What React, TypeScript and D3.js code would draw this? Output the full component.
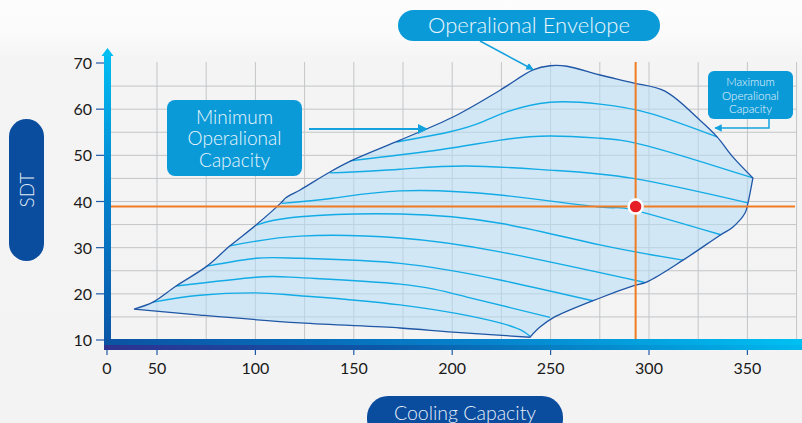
import { useEffect, useRef } from 'react'
import * as d3 from 'd3'

// axis ticks and grid values
const xTicks = [0, 50, 100, 150, 200, 250, 300, 350]
const yTicks = [10, 20, 30, 40, 50, 60, 70]
const xGrid = [50, 75, 100, 125, 150, 175, 200, 225, 250, 275, 300, 325, 350, 375]
const yGrid = [15, 20, 25, 30, 35, 40, 45, 50, 55, 60, 65]

// envelope outline [cooling capacity, SDT]
const envelopeTop = [
  [27, 16.7], [46, 18.2], [59.7, 21.7], [75.4, 26.0], [87.1, 30.4], [100.3, 34.9],
  [113.0, 39.7], [115.5, 40.8], [122.7, 42.5], [137.9, 46.4], [149.6, 49.0],
  [173.5, 53.3], [200.4, 58.3], [224.3, 64.1], [241.1, 68.5], [249.7, 69.4],
  [258.3, 69.3], [275.1, 67.4], [291.9, 65.7], [308.1, 63.9], [325.9, 57.6],
  [334.6, 54.0], [342.7, 49.6], [352.8, 45.1],
]
const envelopeRight = [
  [352.8, 45.1], [350.3, 39.7], [348.8, 37.5], [342.7, 34.5], [336.1, 32.7],
  [317.3, 27.3], [299.0, 22.6], [291.9, 21.7], [275.1, 19.1], [251.2, 14.8],
  [244.6, 12.8], [239.5, 10.6],
]
const envelopeBottom = [
  [239.5, 10.6], [200.4, 11.7], [173.5, 12.6], [122.7, 13.7], [71.8, 15.4], [27, 16.7],
]

// capacity curves inside the envelope
const curveA = [[46, 18.2], [71.8, 19.7], [100.3, 20.2], [122.7, 19.6], [173.5, 17.6], [224.3, 13.7], [239.5, 10.8]]
const curveB = [[59.7, 21.7], [100.3, 23.6], [122.7, 23.5], [173.5, 22.1], [207.5, 19.3], [249.7, 14.9]]
const curveC = [[75.4, 26.0], [100.3, 27.7], [122.7, 27.7], [173.5, 26.6], [224.3, 23.0], [271.5, 18.5]]
const curveD = [[87.1, 30.4], [122.7, 32.5], [173.5, 32.1], [224.3, 29.1], [297.5, 22.5]]
const curveE = [[100.6, 34.9], [122.7, 36.7], [173.5, 37.3], [224.3, 35.3], [275.1, 30.6], [317.3, 27.3]]
const curveF = [[113.4, 39.6], [139.4, 40.7], [173.5, 42.3], [224.3, 41.4], [275.1, 38.8], [291.9, 38.2], [336.5, 32.8]]
const curveG = [[137.9, 46.2], [173.5, 47.0], [207.5, 47.7], [249.7, 46.8], [291.9, 45.0], [350.3, 39.7]]
const curveH = [[148.1, 48.8], [193.8, 51.2], [224.3, 53.3], [249.7, 54.2], [275.1, 53.7], [300.5, 51.9], [352.8, 45.1]]
const curveI = [[171.8, 52.9], [198.9, 55.1], [215.7, 57.3], [227.7, 59.4], [249.7, 61.5], [275.1, 61.1], [300.5, 59.1], [334.6, 54.0]]
const curves = [curveA, curveB, curveC, curveD, curveE, curveF, curveG, curveH, curveI]

const operatingPoint = { cap: 293.2, sdt: 38.9 }

const minLabel = ['Minimum', 'Operalional', 'Capacity']
const maxLabel = ['Maximum', 'Operalional', 'Capacity']

const FONT = 'Lato, "Open Sans", sans-serif'

export default function App() {
  const svgRef = useRef<SVGSVGElement>(null)

  useEffect(() => {
    if (!svgRef.current) return
    document.body.style.margin = '0'
    const svg = d3.select(svgRef.current)
    svg.selectAll('*').remove()

    const W = 802
    const H = 423
    // the axis is broken between 0 and 50
    const x = d3.scaleLinear().domain([0, 50, 375]).range([107, 157, 796.6])
    const y = d3.scaleLinear().domain([10, 70]).range([340, 63])

    const defs = svg.append('defs')
    const bg = defs.append('linearGradient').attr('id', 'bg').attr('x1', 0).attr('x2', 0).attr('y1', 0).attr('y2', 1)
    bg.append('stop').attr('offset', '0%').attr('stop-color', '#fdfdfd')
    bg.append('stop').attr('offset', '9%').attr('stop-color', '#fafafa')
    bg.append('stop').attr('offset', '14%').attr('stop-color', '#f4f4f4')
    bg.append('stop').attr('offset', '100%').attr('stop-color', '#f3f3f3')

    const yAxisGrad = defs.append('linearGradient').attr('id', 'yaxis').attr('x1', 0).attr('x2', 0).attr('y1', 0).attr('y2', 1)
    yAxisGrad.append('stop').attr('offset', '0%').attr('stop-color', '#00bdf2')
    yAxisGrad.append('stop').attr('offset', '50%').attr('stop-color', '#0580cc')
    yAxisGrad.append('stop').attr('offset', '100%').attr('stop-color', '#0a55a5')

    const xTop = defs.append('linearGradient').attr('id', 'xtop')
    xTop.append('stop').attr('offset', '0%').attr('stop-color', '#0b52a2')
    xTop.append('stop').attr('offset', '55%').attr('stop-color', '#0683cc')
    xTop.append('stop').attr('offset', '100%').attr('stop-color', '#00c0f2')
    const xBot = defs.append('linearGradient').attr('id', 'xbot')
    xBot.append('stop').attr('offset', '0%').attr('stop-color', '#2f3190')
    xBot.append('stop').attr('offset', '40%').attr('stop-color', '#0b58a8')
    xBot.append('stop').attr('offset', '100%').attr('stop-color', '#00b8ee')

    const arrowHead = (id: string, color: string) => {
      defs.append('marker')
        .attr('id', id)
        .attr('viewBox', '0 0 10 10')
        .attr('refX', 9).attr('refY', 5)
        .attr('markerWidth', 5).attr('markerHeight', 5)
        .attr('markerUnits', 'strokeWidth')
        .attr('orient', 'auto')
        .append('path').attr('d', 'M0,0 L10,5 L0,10 z').attr('fill', color)
    }
    arrowHead('arr', '#13a2de')

    svg.append('rect').attr('width', W).attr('height', H).attr('fill', 'url(#bg)')

    // grid
    const grid = svg.append('g').attr('stroke', '#c3c5c7').attr('stroke-width', 1)
    grid.selectAll('.vg').data(xGrid).enter().append('line')
      .attr('x1', d => x(d)).attr('x2', d => x(d))
      .attr('y1', y(70) - 1).attr('y2', y(10))
    grid.selectAll('.hg').data(yGrid).enter().append('line')
      .attr('x1', 111).attr('x2', x(375))
      .attr('y1', d => y(d)).attr('y2', d => y(d))

    const line = d3.line<number[]>()
      .x(d => x(d[0]))
      .y(d => y(d[1]))
      .curve(d3.curveCatmullRom.alpha(0.5))

    const smooth = d3.line<number[]>()
      .x(d => x(d[0]))
      .y(d => y(d[1]))
      .curve(d3.curveNatural)

    const envelopePath =
      (line(envelopeTop) || '') +
      (line(envelopeRight) || '').replace(/^M/, 'L') +
      (line(envelopeBottom) || '').replace(/^M/, 'L') + 'Z'

    svg.append('path').attr('d', envelopePath)
      .attr('fill', '#b4ddf5').attr('fill-opacity', 0.55)

    svg.append('g').selectAll('path').data(curves).enter().append('path')
      .attr('d', d => smooth(d))
      .attr('fill', 'none')
      .attr('stroke', '#12abe6')
      .attr('stroke-width', 1.4)

    svg.append('path').attr('d', envelopePath)
      .attr('fill', 'none').attr('stroke', '#1f56a6').attr('stroke-width', 1.3)

    // operating point crosshair
    svg.append('line')
      .attr('x1', 111).attr('x2', 795)
      .attr('y1', y(operatingPoint.sdt)).attr('y2', y(operatingPoint.sdt))
      .attr('stroke', '#f07b22').attr('stroke-width', 2)
    svg.append('line')
      .attr('x1', x(operatingPoint.cap)).attr('x2', x(operatingPoint.cap))
      .attr('y1', y(70) - 1).attr('y2', y(10))
      .attr('stroke', '#f07b22').attr('stroke-width', 2)

    // axes
    svg.append('rect').attr('x', 104).attr('y', 55).attr('width', 7).attr('height', 290).attr('fill', 'url(#yaxis)')
    svg.append('path').attr('d', 'M101.5,56 L107.5,48 L113.5,56 Z').attr('fill', '#00bdf2')
    svg.append('rect').attr('x', 104).attr('y', 339).attr('width', W - 104).attr('height', 6).attr('fill', 'url(#xtop)')
    svg.append('rect').attr('x', 104).attr('y', 345).attr('width', W - 104).attr('height', 5).attr('fill', 'url(#xbot)')

    const ticks = svg.append('g').attr('stroke', '#1f5aa8').attr('stroke-width', 1.2)
    ticks.selectAll('.xt').data(xTicks).enter().append('line')
      .attr('x1', d => x(d)).attr('x2', d => x(d)).attr('y1', 350).attr('y2', 355)
    ticks.selectAll('.yt').data(yTicks).enter().append('line')
      .attr('x1', 96).attr('x2', 104).attr('y1', d => y(d)).attr('y2', d => y(d))

    svg.append('g').selectAll('text').data(xTicks).enter().append('text')
      .attr('x', d => x(d)).attr('y', 374)
      .attr('text-anchor', 'middle')
      .attr('font-family', FONT).attr('font-size', 16).attr('fill', '#1a1a1a')
      .text(d => d)
    svg.append('g').selectAll('text').data(yTicks).enter().append('text')
      .attr('x', 92).attr('y', d => y(d) + 6)
      .attr('text-anchor', 'end')
      .attr('font-family', FONT).attr('font-size', 16).attr('fill', '#1a1a1a')
      .text(d => d)

    // operating point
    svg.append('circle')
      .attr('cx', x(operatingPoint.cap)).attr('cy', y(operatingPoint.sdt))
      .attr('r', 7).attr('fill', '#e61e27')
      .attr('stroke', '#ffffff').attr('stroke-width', 2.5)

    // axis titles
    svg.append('rect').attr('x', 9).attr('y', 119).attr('width', 35).attr('height', 142).attr('rx', 17.5).attr('fill', '#0a4c9e')
    svg.append('text')
      .attr('transform', 'translate(26.5,190) rotate(-90)')
      .attr('text-anchor', 'middle').attr('dominant-baseline', 'central')
      .attr('font-family', FONT).attr('font-weight', 300).attr('font-size', 19).attr('fill', '#e3eef8')
      .text('SDT')
    svg.append('rect').attr('x', 367).attr('y', 396).attr('width', 196).attr('height', 44).attr('rx', 21).attr('fill', '#0a4c9e')
    svg.append('text')
      .attr('x', 465).attr('y', 419.5).attr('text-anchor', 'middle')
      .attr('font-family', FONT).attr('font-weight', 300).attr('font-size', 19.5).attr('fill', '#e3eef8')
      .text('Cooling Capacity')

    // annotations
    svg.append('rect').attr('x', 398).attr('y', 10).attr('width', 262).attr('height', 31).attr('rx', 15.5).attr('fill', '#0b9ad8')
    svg.append('text')
      .attr('x', 529).attr('y', 33).attr('text-anchor', 'middle')
      .attr('font-family', FONT).attr('font-weight', 300).attr('font-size', 22).attr('fill', '#eaf6fc')
      .text('Operalional Envelope')
    svg.append('line').attr('x1', 480).attr('y1', 41).attr('x2', 533).attr('y2', 69.5)
      .attr('stroke', '#13a2de').attr('stroke-width', 1.5).attr('marker-end', 'url(#arr)')

    svg.append('rect').attr('x', 167).attr('y', 100).attr('width', 135).attr('height', 76).attr('rx', 8).attr('fill', '#0b9ad8')
    svg.append('g').selectAll('text').data(minLabel).enter().append('text')
      .attr('x', 234.5).attr('y', (_d, i) => 123.5 + i * 21.5)
      .attr('text-anchor', 'middle')
      .attr('font-family', FONT).attr('font-weight', 300).attr('font-size', 19).attr('fill', '#eaf6fc')
      .text(d => d)
    svg.append('line').attr('x1', 309).attr('y1', 129).attr('x2', 427).attr('y2', 129)
      .attr('stroke', '#13a2de').attr('stroke-width', 2).attr('marker-end', 'url(#arr)')

    svg.append('rect').attr('x', 708).attr('y', 71).attr('width', 85).attr('height', 48).attr('rx', 6).attr('fill', '#0b9ad8')
    svg.append('g').selectAll('text').data(maxLabel).enter().append('text')
      .attr('x', 750.5).attr('y', (_d, i) => 86 + i * 13.5)
      .attr('text-anchor', 'middle')
      .attr('font-family', FONT).attr('font-weight', 300).attr('font-size', 11.5).attr('fill', '#eaf6fc')
      .text(d => d)
    svg.append('path').attr('d', 'M769,119 L769,128 L715,128')
      .attr('fill', 'none').attr('stroke', '#13a2de').attr('stroke-width', 1.5).attr('marker-end', 'url(#arr)')
  }, [])

  return (
    <svg
      ref={svgRef}
      width={802}
      height={423}
      style={{ position: 'fixed', left: 0, top: 0, display: 'block' }}
    />
  )
}
